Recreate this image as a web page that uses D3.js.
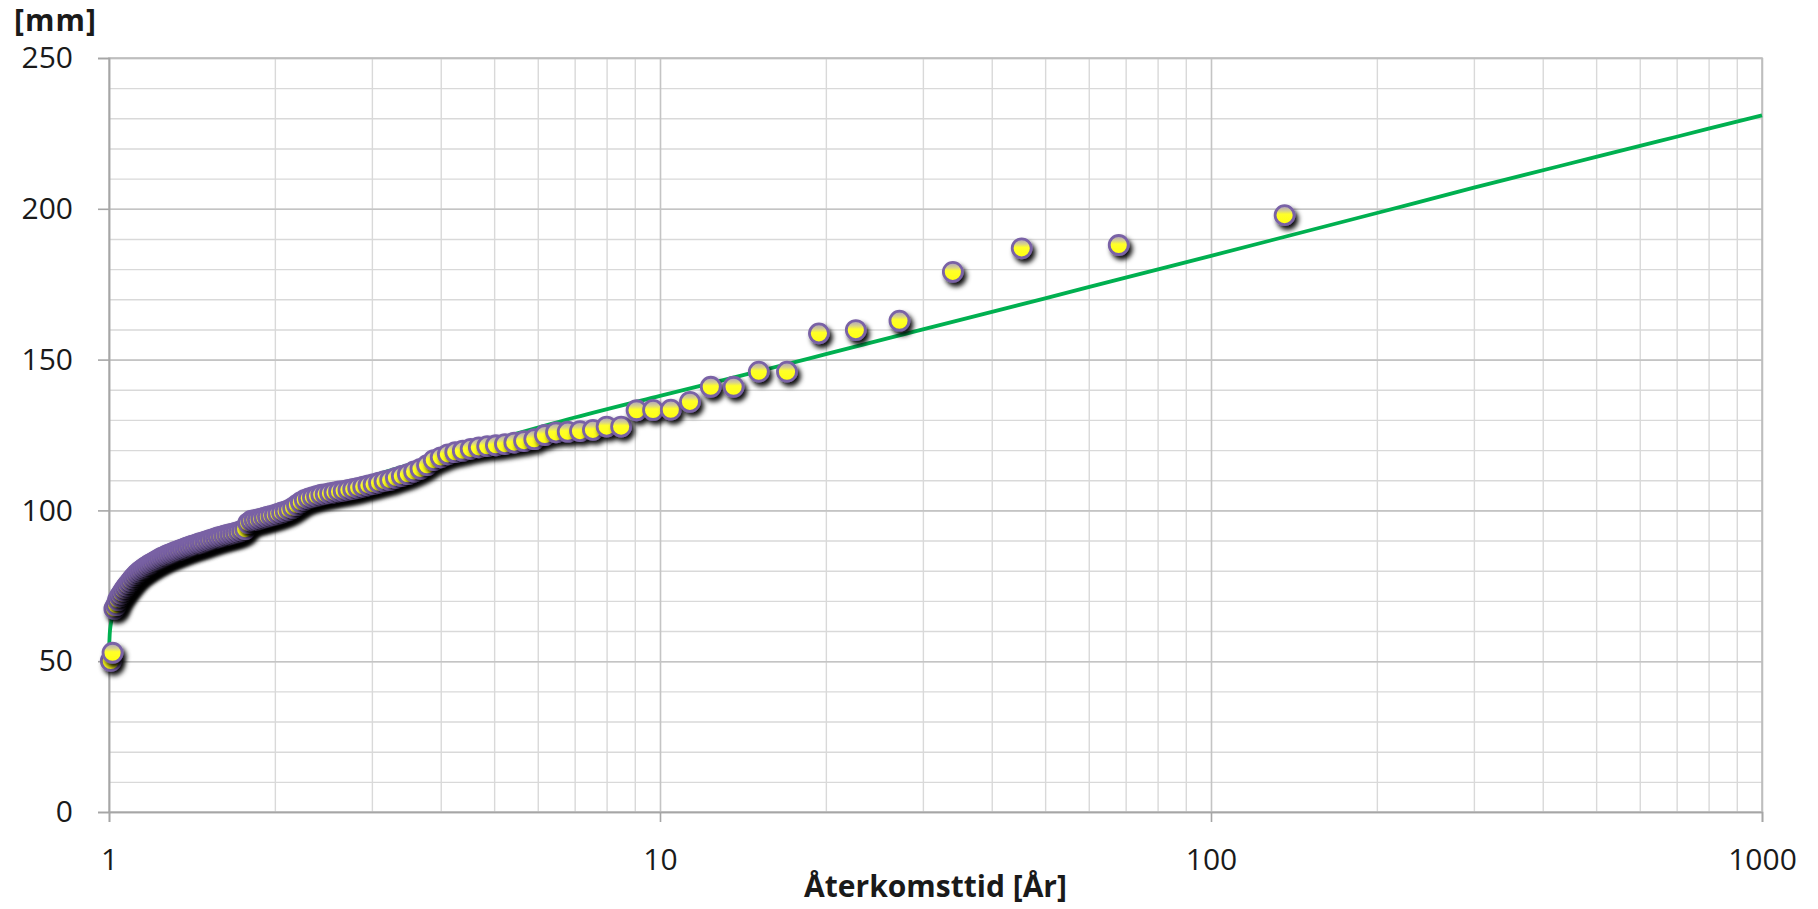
<!DOCTYPE html>
<html>
<head>
<meta charset="utf-8">
<script src="https://cdn.jsdelivr.net/npm/d3@7"></script>
<style>
  html, body { margin: 0; padding: 0; background: #fff; }
  svg text { font-family: "Open Sans", "Noto Sans", sans-serif; fill: #1a1a1a; }
</style>
</head>
<body>
<div id="chart"></div>
<script>
// observed maxima, ordered by return period (plotting position)
const returnPeriod = [
  1.0074, 1.0149, 1.0226, 1.0303, 1.0382, 1.0462, 1.0543, 1.0625, 1.0709, 1.0794,
  1.088, 1.0968, 1.1057, 1.1148, 1.124, 1.1333, 1.1429, 1.1525, 1.1624, 1.1724,
  1.1826, 1.193, 1.2035, 1.2143, 1.2252, 1.2364, 1.2477, 1.2593, 1.271, 1.283,
  1.2952, 1.3077, 1.3204, 1.3333, 1.3465, 1.36, 1.3737, 1.3878, 1.4021, 1.4167,
  1.4316, 1.4468, 1.4624, 1.4783, 1.4945, 1.5111, 1.5281, 1.5455, 1.5632, 1.5814,
  1.6, 1.619, 1.6386, 1.6585, 1.679, 1.7, 1.7215, 1.7436, 1.7662, 1.7895,
  1.8133, 1.8378, 1.863, 1.8889, 1.9155, 1.9429, 1.971, 2.0, 2.0299, 2.0606,
  2.0923, 2.125, 2.1587, 2.1935, 2.2295, 2.2667, 2.3051, 2.3448, 2.386, 2.4286,
  2.4727, 2.5185, 2.566, 2.6154, 2.6667, 2.72, 2.7755, 2.8333, 2.8936, 2.9565,
  3.0222, 3.0909, 3.1628, 3.2381, 3.3171, 3.4, 3.4872, 3.5789, 3.6757, 3.7778,
  3.8857, 4.0, 4.1212, 4.25, 4.3871, 4.5333, 4.6897, 4.8571, 5.037, 5.2308,
  5.44, 5.6667, 5.913, 6.1818, 6.4762, 6.8, 7.1579, 7.5556, 8.0, 8.5,
  9.0667, 9.7143, 10.4615, 11.3333, 12.3636, 13.6, 15.1111, 17.0, 19.4286, 22.6667,
  27.2, 34.0, 45.3333, 68.0, 136.0
]
const rainfall = [
  50.1, 52.8, 67.4, 68.6, 70.3, 71.5, 72.4, 73.4, 74.3, 75.1,
  75.9, 76.7, 77.5, 78.2, 78.9, 79.5, 80.0, 80.5, 81.0, 81.4,
  81.9, 82.3, 82.7, 83.1, 83.5, 83.9, 84.3, 84.6, 85.0, 85.3,
  85.6, 85.9, 86.2, 86.5, 86.8, 87.1, 87.4, 87.7, 88.0, 88.3,
  88.5, 88.8, 89.1, 89.3, 89.6, 89.9, 90.2, 90.5, 90.8, 91.1,
  91.3, 91.6, 91.9, 92.1, 92.3, 92.6, 92.9, 93.3, 93.8, 95.8,
  96.6, 96.8, 97.0, 97.3, 97.6, 97.9, 98.2, 98.5, 98.9, 99.3,
  99.7, 100.2, 100.9, 101.8, 102.7, 103.5, 104.0, 104.4, 104.8, 105.2,
  105.4, 105.7, 106.0, 106.3, 106.5, 106.8, 107.1, 107.5, 107.9, 108.3,
  108.7, 109.2, 109.7, 110.1, 110.8, 111.4, 112.0, 112.9, 113.8, 115.0,
  116.7, 117.6, 118.6, 119.3, 119.8, 120.4, 120.9, 121.3, 121.6, 122.0,
  122.5, 123.0, 123.6, 125.0, 125.9, 126.1, 126.3, 126.7, 127.8, 127.8,
  133.2, 133.3, 133.4, 136.0, 141.0, 141.0, 146.0, 146.0, 158.7, 159.8,
  162.9, 179.1, 186.9, 188.0, 197.9
]

// fitted distribution curve
const fitPeriod = [1.001, 1.003, 1.007, 1.015, 1.03, 1.05, 1.1, 1.2, 1.35, 1.5, 1.75, 2, 2.5, 3, 4, 5, 7, 10, 15, 20, 30, 50, 70, 100, 200, 300, 500, 700, 1000]
const fitValue  = [55.6, 59.0, 62.0, 65.0, 68.2, 71.0, 75.5, 81.2, 86.7, 90.8, 96.2, 100.4, 106.7, 111.4, 118.3, 123.4, 130.8, 138.0, 146.0, 151.8, 160.0, 170.3, 177.2, 184.4, 198.6, 207.0, 217.2, 223.9, 231.0]

const xMajorTicks = [1, 10, 100, 1000]
const xMinorTicks = [2, 3, 4, 5, 6, 7, 8, 9, 20, 30, 40, 50, 60, 70, 80, 90, 200, 300, 400, 500, 600, 700, 800, 900]
const yMajorTicks = [0, 50, 100, 150, 200, 250]
const yMinorTicks = d3.range(0, 251, 10)

const yUnit = '[mm]'
const xTitle = 'Återkomsttid [År]'

const WIDTH = 1818, HEIGHT = 909
const MARGIN = { top: 58, right: 56, bottom: 97, left: 109 }
const W = WIDTH - MARGIN.left - MARGIN.right
const H = HEIGHT - MARGIN.top - MARGIN.bottom

const svg = d3.select('#chart').append('svg')
  .attr('width', WIDTH)
  .attr('height', HEIGHT)

const defs = svg.append('defs')
const shadow = defs.append('filter').attr('id', 'shadow')
  .attr('x', '-60%').attr('y', '-60%').attr('width', '220%').attr('height', '220%')
shadow.append('feDropShadow')
  .attr('dx', 3).attr('dy', 4).attr('stdDeviation', 2.8)
  .attr('flood-color', '#000').attr('flood-opacity', 0.95)

const grad = defs.append('linearGradient').attr('id', 'dotFill')
  .attr('x1', 0).attr('y1', 0).attr('x2', 0).attr('y2', 1)
grad.append('stop').attr('offset', '0%').attr('stop-color', '#a99cc4')
grad.append('stop').attr('offset', '28%').attr('stop-color', '#d8d28a')
grad.append('stop').attr('offset', '45%').attr('stop-color', '#ffff2a')
grad.append('stop').attr('offset', '100%').attr('stop-color', '#ffff10')

const g = svg.append('g').attr('transform', `translate(${MARGIN.left},${MARGIN.top})`)

const x = d3.scaleLog().domain([1, 1000]).range([0, W])
const y = d3.scaleLinear().domain([0, 250]).range([H, 0])

// ── grid ─────────────────────────────────────────────────────
const gridMinorY = g.append('g')
  .call(d3.axisLeft(y).tickValues(yMinorTicks).tickSize(-W).tickFormat(''))
const gridMinorX = g.append('g').attr('transform', `translate(0,${H})`)
  .call(d3.axisBottom(x).tickValues(xMinorTicks).tickSize(-H).tickFormat(''))
;[gridMinorY, gridMinorX].forEach(sel => {
  sel.select('.domain').remove()
  sel.selectAll('line').attr('stroke', '#d9d9d9').attr('stroke-width', 1.4)
})

const gridMajorY = g.append('g')
  .call(d3.axisLeft(y).tickValues(yMajorTicks).tickSize(-W).tickFormat(''))
const gridMajorX = g.append('g').attr('transform', `translate(0,${H})`)
  .call(d3.axisBottom(x).tickValues(xMajorTicks).tickSize(-H).tickFormat(''))
;[gridMajorY, gridMajorX].forEach(sel => {
  sel.select('.domain').remove()
  sel.selectAll('line').attr('stroke', '#c4c4c4').attr('stroke-width', 1.6)
})

// plot frame
g.append('rect')
  .attr('x', 0).attr('y', 0).attr('width', W).attr('height', H)
  .attr('fill', 'none').attr('stroke', '#bdbdbd').attr('stroke-width', 1.6)

// ── axes ─────────────────────────────────────────────────────
const yAxis = g.append('g')
  .call(d3.axisLeft(y).tickValues(yMajorTicks).tickSize(11).tickPadding(25).tickFormat(d3.format('d')))
yAxis.select('.domain').attr('stroke', '#a6a6a6').attr('stroke-width', 1.6)
yAxis.selectAll('line').attr('stroke', '#a6a6a6').attr('stroke-width', 1.6)
yAxis.selectAll('text').style('font-size', '30px').attr('fill', '#1a1a1a')

const xAxis = g.append('g').attr('transform', `translate(0,${H})`)
  .call(d3.axisBottom(x).tickValues(xMajorTicks).tickSize(10).tickPadding(27).tickFormat(d3.format('d')))
xAxis.select('.domain').attr('stroke', '#a6a6a6').attr('stroke-width', 1.6)
xAxis.selectAll('line').attr('stroke', '#a6a6a6').attr('stroke-width', 1.6)
xAxis.selectAll('text').style('font-size', '30px').attr('fill', '#1a1a1a')

// ── fit line ─────────────────────────────────────────────────
const fit = fitPeriod.map((t, i) => ({ t, v: fitValue[i] }))
g.append('path')
  .datum(fit)
  .attr('fill', 'none')
  .attr('stroke', '#00b050')
  .attr('stroke-width', 3.8)
  .attr('d', d3.line().x(d => x(d.t)).y(d => y(d.v)).curve(d3.curveMonotoneX))

// ── observations ─────────────────────────────────────────────
const obs = returnPeriod.map((t, i) => ({ t, v: rainfall[i] }))
g.append('g').selectAll('circle')
  .data(obs)
  .join('circle')
  .attr('cx', d => x(d.t))
  .attr('cy', d => y(d.v))
  .attr('r', 9.5)
  .attr('fill', 'url(#dotFill)')
  .attr('stroke', '#7a62a6')
  .attr('stroke-width', 2.8)
  .attr('filter', 'url(#shadow)')

// ── titles ───────────────────────────────────────────────────
svg.append('text')
  .attr('x', 14).attr('y', 31)
  .style('font-size', '30px').style('font-weight', 700)
  .attr('textLength', 82)
  .text(yUnit)

svg.append('text')
  .attr('x', MARGIN.left + W / 2).attr('y', 897)
  .attr('text-anchor', 'middle')
  .style('font-size', '30px').style('font-weight', 700)
  .text(xTitle)
</script>
</body>
</html>
